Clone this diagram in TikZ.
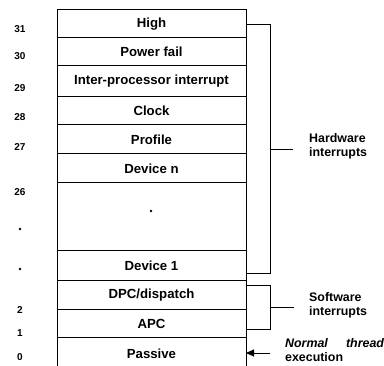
\documentclass[tikz,border=0pt]{standalone}
\usepackage{fontspec}
\setmainfont{Liberation Sans}
\usetikzlibrary{arrows.meta, positioning}

\begin{document}
\begin{tikzpicture}[x=1pt, y=-1pt,
	% Definizione dello stile per i livelli
	livello/.style={draw, rectangle, minimum width=189pt, outer sep=0pt, inner sep=0pt, align=center, line width=1pt, font=\fontsize{13.2}{15}\selectfont\bfseries},
	% Definizione dello stile per i numeri a sinistra
	numero/.style={font=\fontsize{10}{12}\selectfont\bfseries},
	% Definizione dello stile per le etichette a destra
	etichetta/.style={anchor=west, align=left, inner sep=0pt, font=\fontsize{12.4}{14}\selectfont\bfseries},
	punto/.style={circle, fill, inner sep=0pt, minimum size=2.6pt},
	parentesi/.style={line width=0.9pt},
	% Definizione dello stile per le frecce
	arrow/.style={-{Triangle[length=8pt, width=7pt]}, line width=0.9pt}
	]
	\useasboundingbox (0,0) rectangle (384,366);

	% --- LIVELLI (colonna centrale) ---
	\node [livello, minimum height=28pt] (high) at (151.5,24) {High};
	\node [livello, minimum height=28pt, below=0pt of high] (power) {Power fail};
	\node [livello, minimum height=31pt, below=0pt of power] (ipi) {Inter-processor interrupt};
	\node [livello, minimum height=28pt, below=0pt of ipi] (clock) {Clock};
	\node [livello, minimum height=29pt, below=0pt of clock] (profile) {Profile};
	\node [livello, minimum height=29pt, below=0pt of profile] (devn) {Device n};
	\node [livello, minimum height=68pt, below=0pt of devn] (vuoto) {};
	\node [livello, minimum height=30pt, below=0pt of vuoto] (dev1) {Device 1};
	\node [livello, minimum height=29pt, below=0pt of dev1] (dpc) {DPC/dispatch};
	\node [livello, minimum height=28pt, below=0pt of dpc] (apc) {APC};
	\node [livello, minimum height=32pt, below=0pt of apc] (passive) {Passive};
	\node [punto] (pvuoto) at (151,211) {};

	% --- NUMERI (sinistra) ---
	\node [numero] (n31) at (20,29) {31};
	\node [numero] (n30) at (20,56) {30};
	\node [numero] (n29) at (20,88) {29};
	\node [numero] (n28) at (20,117) {28};
	\node [numero] (n27) at (20,147) {27};
	\node [numero] (n26) at (20,192) {26};
	\node [punto] (pa) at (20,229) {};
	\node [punto] (pb) at (20,269) {};
	\node [numero] (n2) at (20,310) {2};
	\node [numero] (n1) at (20,333) {1};
	\node [numero] (n0) at (20,357) {0};

	% --- PARENTESI (destra) ---
	\coordinate (hwa) at (270,24);
	\coordinate (hwb) at (270,273);
	\coordinate (hwc) at (246,273);
	\coordinate (hwm) at (270,149);
	\coordinate (hwt) at (293,149);
	\draw [parentesi] (high.east) -- (hwa) -- (hwb) -- (hwc);
	\draw [parentesi] (hwm) -- (hwt);
	\node [etichetta] (hw) at (309,146) {Hardware\\interrupts};

	\coordinate (swo) at (246,285);
	\coordinate (swa) at (270,285);
	\coordinate (swb) at (270,329);
	\coordinate (swc) at (246,329);
	\coordinate (swm) at (270,307);
	\coordinate (swt) at (294,307);
	\draw [parentesi] (swo) -- (swa) -- (swb) -- (swc);
	\draw [parentesi] (swm) -- (swt);
	\node [etichetta] (sw) at (309,305) {Software\\interrupts};

	% --- FRECCIA (in basso) ---
	\coordinate (ntp) at (270,353);
	\draw [arrow] (ntp) -- (passive.east |- ntp);
	\node [etichetta, text width=99pt] (nt) at (285,350) {\textit{Normal}\hfill\textit{thread}\\execution};

\end{tikzpicture}
\end{document}
